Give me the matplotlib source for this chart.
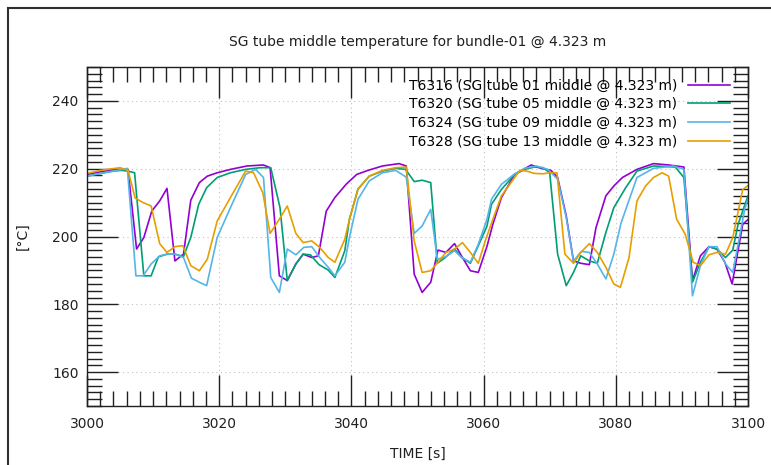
import matplotlib
matplotlib.use('Agg')
import matplotlib.pyplot as plt
from matplotlib.ticker import MultipleLocator
from matplotlib.lines import Line2D

plt.rcParams['font.family'] = ['DejaVu Sans']

# T6316 (purple)
t_6316 = [3000, 3001.5, 3003, 3004.5, 3006.2, 3007.5, 3008.6, 3009.8, 3011, 3012.1, 3013.3, 3014.6,
          3015.7, 3017, 3018.2, 3019.7, 3021.7, 3024.2, 3026.7, 3027.7, 3029.1, 3030.3, 3031.6, 3032.7,
          3034, 3035, 3036.2, 3037.5, 3039.2, 3040.8, 3042.5, 3044.7, 3047.2, 3048.3, 3049.5, 3050.7,
          3052, 3053.1, 3054.3, 3055.6, 3056.8, 3058, 3059.2, 3060.5, 3061.4, 3062.7, 3064.7, 3067.2,
          3068.7, 3070.2, 3071.2, 3072.5, 3073.6, 3074.7, 3076, 3077, 3078.5, 3079.7, 3081, 3083.2,
          3085.7, 3088, 3090.3, 3091.6, 3092.8, 3094.1, 3095.3, 3096.5, 3097.6, 3099.2, 3100]
T_6316 = [218.3, 218.9, 219.4, 219.8, 219.8, 196.3, 199.7, 207.5, 210.5, 214.2, 192.8, 194.8,
          210.7, 215.9, 217.8, 218.8, 219.8, 220.8, 221.1, 220.3, 188.4, 187.0, 191.9, 194.8,
          193.8, 194.3, 207.5, 211.5, 215.4, 218.3, 219.5, 220.8, 221.5, 220.8, 188.9, 183.5,
          186.5, 196.0, 195.3, 197.9, 193.8, 189.9, 189.4, 197.0, 203.6, 211.5, 218.3, 221.1,
          220.1, 219.5, 217.4, 206.1, 192.8, 192.1, 191.7, 202.6, 212.0, 214.9, 217.4, 219.8,
          221.5, 221.1, 220.5, 187.0, 194.3, 197.0, 196.3, 192.4, 186.0, 203.6, 205.0]

# T6320 (green)
t_6320 = [3000, 3002, 3004, 3005.2, 3006.2, 3007.2, 3008.6, 3009.7, 3010.8, 3012.1, 3013.3, 3014.6,
          3015.7, 3016.9, 3018.1, 3019.7, 3021.7, 3024, 3026.2, 3027.8, 3029.2, 3030.3, 3031.6, 3032.7,
          3033.8, 3035.1, 3036.5, 3037.5, 3039, 3039.7, 3041, 3042.7, 3044.7, 3046.7, 3048.2, 3049.5,
          3050.7, 3052, 3053, 3054.2, 3055.6, 3056.7, 3058, 3059.2, 3060.5, 3061.2, 3062.7, 3064.7,
          3066.2, 3067.7, 3069, 3070, 3071.2, 3072.5, 3073.6, 3074.7, 3076, 3077.2, 3078.5, 3079.7,
          3081.5, 3083.2, 3085.7, 3089, 3090.3, 3091.6, 3092.8, 3094.1, 3095.3, 3096.6, 3097.7, 3098.5,
          3100]
T_6320 = [217.8, 218.6, 219.3, 219.5, 219.3, 218.8, 188.4, 188.4, 194.0, 194.8, 194.8, 194.1,
          199.7, 209.5, 214.4, 217.4, 218.8, 219.8, 220.3, 220.3, 208.5, 187.0, 191.9, 194.8,
          194.6, 191.7, 190.1, 187.9, 195.8, 205.1, 214.0, 217.8, 219.3, 220.1, 219.8, 216.2,
          216.6, 215.9, 192.1, 193.8, 196.3, 193.8, 192.1, 197.3, 203.0, 209.5, 213.9, 218.3,
          219.8, 220.5, 220.3, 218.8, 194.8, 185.5, 189.4, 194.3, 192.8, 192.1, 201.2, 208.5,
          214.4, 219.3, 220.8, 220.5, 217.4, 186.5, 192.4, 197.0, 196.3, 193.8, 196.0, 203.6,
          212.0]

# T6324 (blue)
t_6324 = [3000, 3002, 3004, 3006.1, 3007.4, 3008.5, 3009.7, 3011, 3012.2, 3013.3, 3014.6, 3015.8,
          3017, 3018.1, 3019.7, 3021.7, 3024, 3025.5, 3026.7, 3027.8, 3029.1, 3030.3, 3031.6, 3032.8,
          3034, 3035.2, 3036.5, 3037.5, 3039, 3039.7, 3041, 3042.7, 3044.7, 3046.7, 3048.3, 3049.5,
          3050.7, 3052, 3053, 3054.2, 3055.6, 3056.7, 3058, 3059.2, 3060.5, 3061.2, 3062.7, 3064.7,
          3066.2, 3068, 3069.7, 3071.2, 3072.5, 3073.6, 3074.8, 3076, 3077.2, 3078.5, 3079.7, 3080.8,
          3083.2, 3085.7, 3088.7, 3090.3, 3091.6, 3092.8, 3094.1, 3095.3, 3096.6, 3097.7, 3099.5, 3100]
T_6324 = [217.8, 218.6, 219.3, 220.1, 188.4, 188.4, 191.9, 194.3, 194.8, 194.8, 193.8, 187.7,
          186.5, 185.5, 199.7, 208.5, 218.3, 219.8, 217.4, 187.9, 183.5, 196.3, 194.6, 196.8,
          197.0, 193.8, 190.9, 188.4, 192.4, 199.7, 211.0, 216.4, 218.8, 219.5, 217.5, 200.9,
          203.1, 208.0, 193.3, 194.0, 195.8, 193.8, 192.4, 197.7, 205.0, 211.0, 215.4, 218.5,
          220.1, 220.8, 219.8, 216.9, 205.6, 192.8, 195.6, 195.3, 191.9, 187.5, 194.8, 204.0,
          217.4, 220.1, 220.8, 219.8, 182.5, 191.4, 197.0, 197.0, 191.9, 189.4, 208.0, 211.0]

# T6328 (orange)
t_6328 = [3000, 3002, 3005, 3006.2, 3007.3, 3008.5, 3009.7, 3011, 3012.1, 3013.3, 3014.5, 3015.7,
          3017, 3018.2, 3019.7, 3021.7, 3024, 3025.2, 3026.6, 3027.7, 3029.1, 3030.3, 3031.6, 3032.7,
          3034, 3035.2, 3036.5, 3037.5, 3039, 3039.7, 3041, 3042.7, 3044.7, 3046.7, 3048.3, 3049.5,
          3050.7, 3052, 3053.1, 3054.3, 3055.6, 3056.8, 3058, 3059.2, 3060.3, 3061.5, 3062.7, 3064.7,
          3065.5, 3066.5, 3067.7, 3069, 3070, 3071.1, 3072.3, 3073.6, 3074.7, 3076, 3077.2, 3078.5,
          3079.7, 3080.7, 3082, 3083.2, 3084.5, 3085.7, 3087, 3088, 3089.2, 3090.5, 3091.7, 3092.8,
          3094.1, 3095.3, 3096.6, 3097.7, 3099.2, 3100]
T_6328 = [218.6, 219.5, 220.3, 219.5, 211.3, 210.0, 209.0, 197.9, 195.3, 197.0, 197.3, 191.4,
          189.9, 193.3, 204.6, 211.5, 219.3, 218.8, 212.9, 200.9, 205.1, 209.0, 200.9, 198.2,
          198.7, 196.8, 193.8, 192.4, 199.2, 205.0, 214.0, 217.8, 219.5, 220.3, 220.5, 198.7,
          189.4, 189.9, 192.4, 195.3, 196.3, 198.2, 195.3, 192.1, 199.0, 205.6, 212.0, 217.4,
          219.5, 219.3, 218.6, 218.5, 218.8, 218.8, 194.8, 192.1, 195.3, 197.9, 195.3, 190.9,
          186.0, 185.0, 193.8, 210.5, 214.9, 217.4, 218.8, 217.8, 205.1, 200.7, 192.4, 191.4,
          194.6, 195.3, 194.8, 199.7, 213.9, 215.0]

labels = ['T6316 (SG tube 01 middle @ 4.323 m)',
          'T6320 (SG tube 05 middle @ 4.323 m)',
          'T6324 (SG tube 09 middle @ 4.323 m)',
          'T6328 (SG tube 13 middle @ 4.323 m)']
colors = ['#9400d3', '#009e73', '#56b4e9', '#e69f00']

W, H = 771, 465
fig = plt.figure(figsize=(W / 100, H / 100), dpi=100)
ax = fig.add_axes([87 / W, 1 - 406 / H, (748 - 87) / W, (406 - 67) / H])

# outer window frame (left and top only visible)
fig.add_artist(Line2D([8 / W, 8 / W], [0, 1 - 8 / H], transform=fig.transFigure, color='#303030', lw=1.5))
fig.add_artist(Line2D([8 / W, 1], [1 - 8 / H, 1 - 8 / H], transform=fig.transFigure, color='#303030', lw=1.5))

for t, T, lab, c in zip([t_6316, t_6320, t_6324, t_6328], [T_6316, T_6320, T_6324, T_6328], labels, colors):
    ax.plot(t, T, color=c, lw=1.2, label=lab)

ax.set_xlim(3000, 3100)
ax.set_ylim(150, 250)
ax.xaxis.set_major_locator(MultipleLocator(20))
ax.xaxis.set_minor_locator(MultipleLocator(2))
ax.yaxis.set_major_locator(MultipleLocator(20))
ax.yaxis.set_minor_locator(MultipleLocator(2))
ax.tick_params(which='both', direction='in', top=True, right=True, color='#202020', width=1.0,
               labelsize=10, labelcolor='#202020')
ax.tick_params(which='major', length=22, pad=6)
ax.tick_params(axis='x', which='major', pad=8)
ax.tick_params(which='minor', length=11)
ax.grid(True, which='major', linestyle=(0, (1, 3)), color='#c0c0c0', lw=0.8)
for s in ax.spines.values():
    s.set_color('#202020')
    s.set_linewidth(1.0)

ax.set_title('SG tube middle temperature for bundle-01 @ 4.323 m', fontsize=10, color='#202020', pad=15)
ax.set_xlabel('TIME [s]', fontsize=10, color='#202020', labelpad=11)
ax.set_ylabel('[°C]', fontsize=10, color='#202020', labelpad=16)

ax.legend(loc='upper right', frameon=False, markerfirst=False, fontsize=10, handlelength=3.0,
          labelspacing=0.33, borderaxespad=0.2, handletextpad=0.8, bbox_to_anchor=(0.985, 0.99))

fig.savefig('out.png', dpi=100)
